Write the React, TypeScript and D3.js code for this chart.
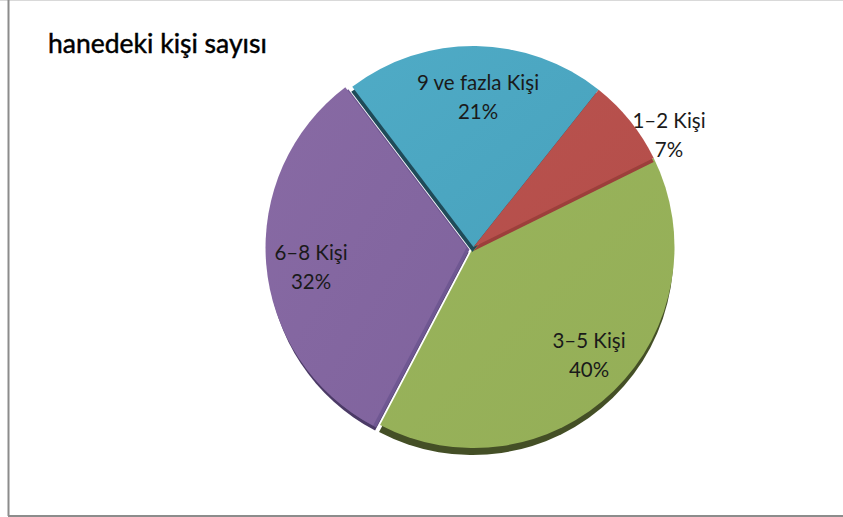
import React from 'react';
import * as d3 from 'd3';

const categories = ['1–2 Kişi', '3–5 Kişi', '6–8 Kişi', '9 ve fazla Kişi'];
const shares = [7, 40, 32, 21];
const percentLabels = ['7%', '40%', '32%', '21%'];
const chartTitle = 'hanedeki kişi sayısı';

const W = 843;
const H = 517;
const cx = 473.5;
const cy = 247;
const radius = 201;
const fontName = 'Lato, "Open Sans", sans-serif';

// per slice styling, same order as categories
const topLight = ['#b9524e', '#99b45b', '#886aa4', '#4fabc6'];
const topDark = ['#b44e4a', '#94ae57', '#7f639d', '#48a2bd'];
const wallColor = ['#9c3f3b', '#444f26', '#4b3a66', '#1f4b59'];
const wallShiftX = [0, -1, 2, -1];
const wallShiftY = [4, 7, 5, 5];
const explode = [0, 0, 7, 0];
// where each label sits, centre of the text block
const labelX = [669, 589, 311, 478];
const labelY = [135, 355, 267, 97];
const drawOrder = [1, 2, 3, 0];

const toRad = (deg: number) => (deg * Math.PI) / 180;

export default function App() {
  const slices = d3
    .pie<number>()
    .sort(null)
    .startAngle(toRad(38.5))
    .endAngle(toRad(398.5))(shares);

  const arc = d3.arc<d3.PieArcDatum<number>>().innerRadius(0).outerRadius(radius);

  return (
    <svg
      width={W}
      height={H}
      style={{ position: 'absolute', left: 0, top: 0, display: 'block', background: '#fff' }}
    >
      <defs>
        {slices.map((d, i) => (
          <linearGradient key={i} id={'top' + i} x1="0" y1="0" x2="1" y2="1">
            <stop offset="0%" stopColor={topLight[i]} />
            <stop offset="100%" stopColor={topDark[i]} />
          </linearGradient>
        ))}
      </defs>

      <line x1={0} x2={W} y1={0.5} y2={0.5} stroke="#d9d9d9" strokeWidth={1} />
      <line x1={8.5} x2={8.5} y1={0} y2={516} stroke="#8c8c8c" strokeWidth={2} />
      <line x1={8} x2={W} y1={516} y2={516} stroke="#8c8c8c" strokeWidth={2} />

      <text
        x={48}
        y={53}
        fontFamily={fontName}
        fontSize={26.5}
        fill="#000"
        stroke="#000"
        strokeWidth={0.45}
      >
        {chartTitle}
      </text>

      {drawOrder.map((i) => {
        const d = slices[i];
        const mid = (d.startAngle + d.endAngle) / 2;
        const ox = cx + Math.sin(mid) * explode[i];
        const oy = cy - Math.cos(mid) * explode[i];
        return (
          <g key={i} transform={`translate(${ox},${oy})`}>
            <path
              d={arc(d) ?? ''}
              transform={`translate(${wallShiftX[i]},${wallShiftY[i]})`}
              fill={wallColor[i]}
            />
            {explode[i] > 0 && (
              <path d={arc(d) ?? ''} transform="translate(3,2)" fill="#6f5792" />
            )}
            <path d={arc(d) ?? ''} fill={`url(#top${i})`} />
          </g>
        );
      })}

      {slices.map((d, i) => (
        <text
          key={i}
          textAnchor="middle"
          fontFamily={fontName}
          fontSize={20.5}
          fill="#1a1a1a"
        >
          <tspan x={labelX[i]} y={labelY[i] - 7}>
            {categories[i]}
          </tspan>
          <tspan x={labelX[i]} y={labelY[i] + 22}>
            {percentLabels[i]}
          </tspan>
        </text>
      ))}
    </svg>
  );
}
